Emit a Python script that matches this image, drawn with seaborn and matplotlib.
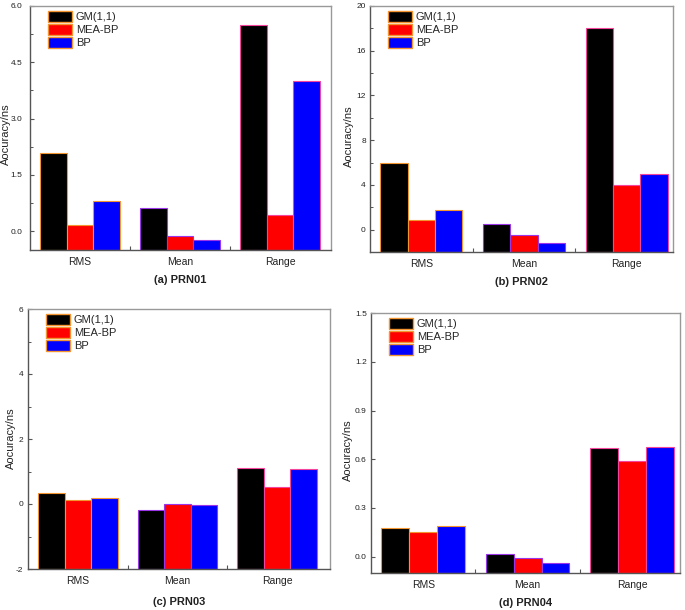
import pandas as pd
import seaborn as sns
import matplotlib.pyplot as plt
from matplotlib.patches import Patch
from matplotlib.ticker import MultipleLocator, FormatStrFormatter

stats = ["RMS", "Mean", "Range"]
methods = ["GM(1,1)", "MEA-BP", "BP"]
colors = ["#000000", "#FF0000", "#0000FF"]
edge_colors = ["#F39530", "#9B35E8", "#F2459B"]

prn01_gm = [2.08, 0.63, 5.49]
prn01_mea = [0.17, -0.14, 0.44]
prn01_bp = [0.81, -0.23, 3.99]

prn02_gm = [5.98, 0.53, 18.05]
prn02_mea = [0.87, -0.45, 4.02]
prn02_bp = [1.72, -1.23, 4.94]

prn03_gm = [0.33, -0.17, 1.10]
prn03_mea = [0.12, 0.0, 0.53]
prn03_bp = [0.17, -0.04, 1.07]

prn04_gm = [0.18, 0.016, 0.667]
prn04_mea = [0.152, -0.01, 0.588]
prn04_bp = [0.19, -0.041, 0.673]

sns.set_style("ticks")
plt.rcParams["font.family"] = ["Liberation Sans", "DejaVu Sans"]

W, H = 685, 610
fig = plt.figure(figsize=(W / 100, H / 100), dpi=100)

# title, series, ylim, major step, minor step, tick format, xlim,
# axes rect (px: left, top, right, bottom), ylabel anchor (px: right edge x, centre y),
# xlabel pad, y tick label pad
panels = [
    ("(a) PRN01", (prn01_gm, prn01_mea, prn01_bp), (-0.5, 6.0), 1.5, 0.75, "%.1f", (-0.5, 2.51),
     (30, 6, 331, 250), (11, 134), 6, 5.5),
    ("(b) PRN02", (prn02_gm, prn02_mea, prn02_bp), (-2, 20), 4, 2, "%d", (-0.5, 2.45),
     (370, 6, 673, 252), (354, 136), 6, 3),
    ("(c) PRN03", (prn03_gm, prn03_mea, prn03_bp), (-2, 6), 2, 1, "%d", (-0.5, 2.53),
     (28, 309, 330, 569), (16, 438), 8, 3.5),
    ("(d) PRN04", (prn04_gm, prn04_mea, prn04_bp), (-0.1, 1.5), 0.3, None, "%.1f", (-0.5, 2.46),
     (371, 313, 680, 573), (353, 450), 6, 3),
]

for title, series, ylim, major, minor, fmt, xlim, (l, t, r, b), (lx, ly), xpad, ypad in panels:
    ax = fig.add_axes([l / W, 1 - b / H, (r - l) / W, (b - t) / H])
    rows = []
    for m, vals in zip(methods, series):
        for s, v in zip(stats, vals):
            rows.append({"stat": s, "method": m, "value": v})
    df = pd.DataFrame(rows)
    # bars rise from the bottom of the axis, as in the original
    df["height"] = df["value"] - ylim[0]

    sns.barplot(data=df, x="stat", y="height", hue="method", order=stats, hue_order=methods,
                palette=colors, saturation=1, errorbar=None, width=0.8, legend=False,
                bottom=ylim[0], edgecolor=edge_colors, linewidth=0.8, ax=ax)

    ax.set_xlim(*xlim)
    ax.set_ylim(*ylim)
    ax.yaxis.set_major_locator(MultipleLocator(major))
    if minor:
        ax.yaxis.set_minor_locator(MultipleLocator(minor))
    ax.yaxis.set_major_formatter(FormatStrFormatter(fmt))

    ax.set_xticks([0.5, 1.5])
    ax.set_xticklabels([])
    ax.set_xticks([0, 1, 2], minor=True)
    ax.set_xticklabels(stats, minor=True)
    ax.tick_params(axis="x", which="major", direction="in", length=3, width=0.8, color="#555555")
    ax.tick_params(axis="x", which="minor", length=0, labelsize=7.5, pad=5, labelcolor="#222222")
    ax.tick_params(axis="y", which="major", direction="in", length=3, width=0.8, color="#555555",
                   labelsize=6, pad=ypad, labelcolor="#222222")
    ax.tick_params(axis="y", which="minor", direction="in", length=2, width=0.7, color="#555555")

    for side in ["left", "bottom"]:
        ax.spines[side].set_color("#555555")
        ax.spines[side].set_linewidth(1.0)
    for side in ["top", "right"]:
        ax.spines[side].set_color("#999999")
        ax.spines[side].set_linewidth(1.0)

    aw, ah = r - l, b - t
    ax.set_ylabel("Aocuracy/ns", fontsize=8, color="#222222")
    ax.yaxis.set_label_coords((lx - l) / aw, (b - ly) / ah)
    ax.set_xlabel(title, fontsize=8, fontweight="bold", labelpad=xpad, color="#222222")

    handles = [Patch(facecolor=c, edgecolor="#F39530", linewidth=1.0) for c in colors]
    ax.legend(handles, methods, loc="upper left", bbox_to_anchor=(18 / aw, 1 - 5 / ah),
              frameon=False, fontsize=8, borderpad=0, borderaxespad=0,
              handlelength=2.2, handleheight=1.2, labelspacing=0.12, handletextpad=0.3)

fig.savefig("out.png", dpi=100)
